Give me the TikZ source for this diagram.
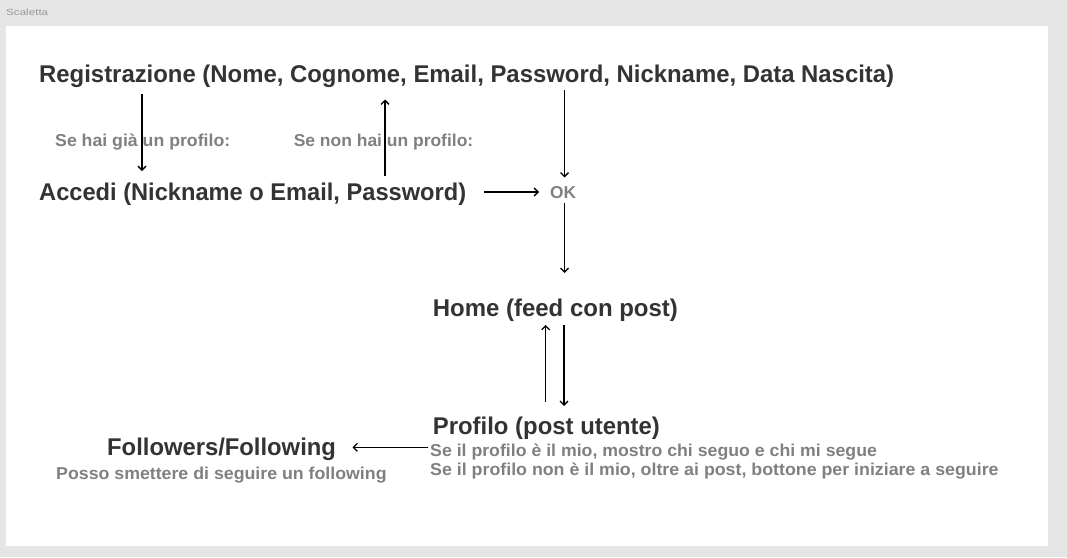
\documentclass[tikz,border=0pt]{standalone}
\usepackage{fontspec}
\setmainfont{Liberation Sans}
\usetikzlibrary{arrows.meta}
\definecolor{bg}{HTML}{E5E5E5}
\definecolor{dark}{HTML}{333333}
\definecolor{mid}{HTML}{808080}
\definecolor{faint}{HTML}{9A9A9A}
\newcommand{\fitw}[2]{\resizebox{#1pt}{\height}{#2}}
\begin{document}
\begin{tikzpicture}[x=1pt,y=-1pt,
  lbl/.style={inner sep=0pt, anchor=base west},
  big/.style={lbl, text=dark, font=\bfseries\fontsize{24.2}{28}\selectfont},
  small/.style={lbl, text=mid, font=\bfseries\fontsize{17.2}{20}\selectfont},
  arr/.style={-{Straight Barb[length=4pt,width=8pt]}, line width=1.25pt, draw=black}]
\useasboundingbox (0,0) rectangle (1067,557);
\fill[bg] (0,0) rectangle (1067,557);
\fill[white] (6,26) rectangle (1048,545.5);
\node[lbl, text=faint, font=\fontsize{9}{11}\selectfont] (scaletta) at (6,15.5) {\fitw{42}{Scaletta}};

\node[big] (reg) at (39,82.5) {\fitw{855}{Registrazione (Nome, Cognome, Email, Password, Nickname, Data Nascita)}};
\node[big] (accedi) at (39,200.5) {\fitw{427}{Accedi (Nickname o Email, Password)}};
\node[small] (ok) at (550,198.3) {\fitw{26}{OK}};
\node[small] (lbla) at (55,146) {\fitw{175}{Se hai già un profilo:}};
\node[small] (lblb) at (293.6,146) {\fitw{179.4}{Se non hai un profilo:}};
\node[big] (home) at (432.7,316.3) {\fitw{245}{Home (feed con post)}};
\node[big] (profilo) at (432.7,434.5) {\fitw{227}{Profilo (post utente)}};
\node[big] (foll) at (107,455) {\fitw{228.7}{Followers/Following}};
\node[small] (posso) at (56,479.5) {\fitw{330.4}{Posso smettere di seguire un following}};
\node[small] (pla) at (430,456.5) {\fitw{446.7}{Se il profilo è il mio, mostro chi seguo e chi mi segue}};
\node[small] (plb) at (430,475) {\fitw{568.3}{Se il profilo non è il mio, oltre ai post, bottone per iniziare a seguire}};

\draw[arr] ([shift={(103,11.5)}]reg.base west) -- ([shift={(103,-29.5)}]accedi.base west);
\draw[arr] ([shift={(346,-24.5)}]accedi.base west) -- ([shift={(346,17)}]reg.base west);
\draw[arr] ([shift={(525.5,7.5)}]reg.base west) -- ([shift={(14.5,-20.8)}]ok.base west);
\draw[arr] ([shift={(14.5,4.4)}]ok.base west) -- ([shift={(131.8,-43.3)}]home.base west);
\draw[arr] ([shift={(445,-8.5)}]accedi.base west) -- ([shift={(-11,-6.3)}]ok.base west);
\draw[arr] ([shift={(113,-32.8)}]profilo.base west) -- ([shift={(113,8.7)}]home.base west);
\draw[arr] ([shift={(131.3,8.7)}]home.base west) -- ([shift={(131.3,-28.5)}]profilo.base west);
\draw[arr] ([shift={(-2.5,-9.2)}]pla.base west) -- ([shift={(245.5,-7.7)}]foll.base west);
\end{tikzpicture}
\end{document}
